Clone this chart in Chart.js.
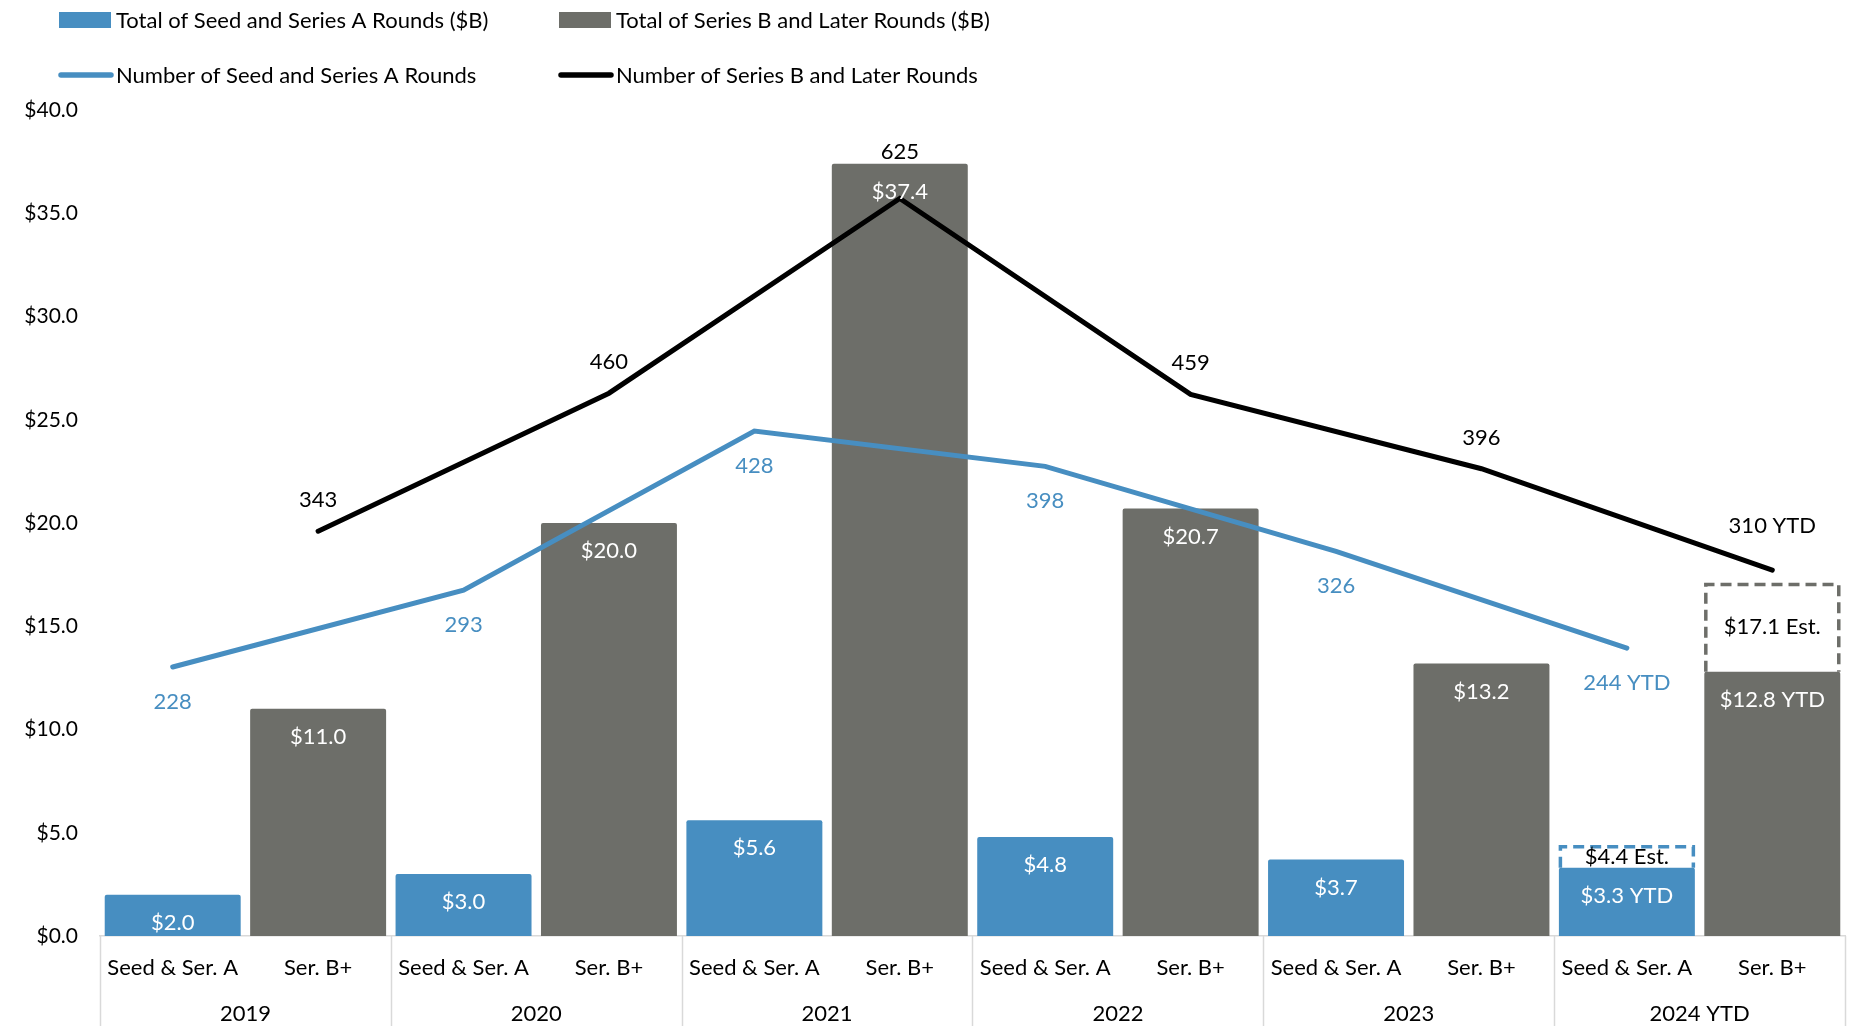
<!DOCTYPE html>
<html>
<head>
<meta charset="utf-8">
<title>Venture Rounds</title>
<script src="https://cdn.jsdelivr.net/npm/chart.js@4.4.1/dist/chart.umd.min.js"></script>
<style>
    html, body { margin: 0; padding: 0; background: #fff; }
    #wrap { width: 1857px; height: 1026px; }
</style>
</head>
<body>
<div id="wrap"><canvas id="rounds-chart" width="1857" height="1026"></canvas></div>
<script>
"use strict";

var years = ["2019", "2020", "2021", "2022", "2023", "2024 YTD"];
var roundTypes = ["Seed & Ser. A", "Ser. B+"];
var seedTotals = [2.0, 3.0, 5.6, 4.8, 3.7, 3.3];
var laterTotals = [11.0, 20.0, 37.4, 20.7, 13.2, 12.8];
var estimates2024 = [4.4, 17.1];
var seedCounts = [228, 293, 428, 398, 326, 244];
var laterCounts = [343, 460, 625, 459, 396, 310];
var dollarTicks = [0, 5, 10, 15, 20, 25, 30, 35, 40];

var BLUE = "#478ec1";
var GRAY = "#6d6e69";
var FONT = "Lato";
var FONT_SIZE = 22;
var last = years.length - 1;

// two slots per year: seed/series A first, then series B+
var slotLabels = [];
var seedBars = [], laterBars = [], estBars = [], seedLine = [], laterLine = [];
years.forEach(function (y, i) {
    slotLabels.push(roundTypes[0], roundTypes[1]);
    seedBars.push(seedTotals[i], null);
    laterBars.push(null, laterTotals[i]);
    seedLine.push(seedCounts[i], null);
    laterLine.push(null, laterCounts[i]);
    if (i === last) {
        estBars.push([seedTotals[i], estimates2024[0]], [laterTotals[i], estimates2024[1]]);
    } else {
        estBars.push(null, null);
    }
});

function suffix(idx) {
    return Math.floor(idx / 2) === last ? " YTD" : "";
}

function fontStr() {
    return FONT_SIZE + "px " + FONT;
}

// value labels, dashed estimate outlines, year separators, legend
var decorations = {
    id: "decorations",
    afterDatasetsDraw: function (chart) {
        var ctx = chart.ctx;
        var area = chart.chartArea;
        ctx.save();
        ctx.font = fontStr();
        ctx.textAlign = "center";
        ctx.textBaseline = "middle";

        var estMeta = chart.getDatasetMeta(2);
        estMeta.data.forEach(function (el, i) {
            var v = estBars[i];
            if (!v) return;
            var half = el.width / 2;
            ctx.save();
            ctx.strokeStyle = i % 2 === 0 ? BLUE : GRAY;
            ctx.lineWidth = 3.5;
            ctx.setLineDash([11, 6]);
            ctx.beginPath();
            ctx.moveTo(el.x - half + 1.5, el.base);
            ctx.lineTo(el.x - half + 1.5, el.y + 1.5);
            ctx.lineTo(el.x + half - 1.5, el.y + 1.5);
            ctx.lineTo(el.x + half - 1.5, el.base);
            ctx.stroke();
            ctx.restore();
            ctx.fillStyle = "#000";
            ctx.fillText("$" + v[1].toFixed(1) + " Est.", el.x, (el.y + el.base) / 2);
        });

        [0, 1].forEach(function (d) {
            var meta = chart.getDatasetMeta(d);
            var vals = d === 0 ? seedBars : laterBars;
            meta.data.forEach(function (el, i) {
                if (vals[i] == null) return;
                ctx.fillStyle = "#fff";
                ctx.fillText("$" + vals[i].toFixed(1) + suffix(i), el.x, el.y + 28);
            });
        });

        var seedMeta = chart.getDatasetMeta(3);
        seedMeta.data.forEach(function (el, i) {
            if (seedLine[i] == null) return;
            ctx.fillStyle = BLUE;
            ctx.fillText(seedLine[i] + suffix(i), el.x, el.y + 35);
        });

        // count labels sit above the point, or above the bar when the bar is taller
        var laterMeta = chart.getDatasetMeta(4);
        var yScale = chart.scales.y;
        laterMeta.data.forEach(function (el, i) {
            if (laterLine[i] == null) return;
            var ly;
            if (estBars[i]) {
                ly = yScale.getPixelForValue(estBars[i][1]) - 57;
            } else {
                ly = Math.min(el.y - 31, yScale.getPixelForValue(laterBars[i]) - 12);
            }
            ctx.fillStyle = "#000";
            ctx.fillText(laterLine[i] + suffix(i), el.x, ly);
        });

        // year group separators below the axis
        var xs = chart.scales.x;
        var step = xs.getPixelForValue(1) - xs.getPixelForValue(0);
        ctx.strokeStyle = "#d9d9d9";
        ctx.lineWidth = 1.5;
        for (var k = 0; k <= slotLabels.length; k += 2) {
            var px = Math.round(xs.getPixelForValue(k) - step / 2) + 0.5;
            ctx.beginPath();
            ctx.moveTo(px, area.bottom);
            ctx.lineTo(px, chart.height);
            ctx.stroke();
        }
        ctx.restore();
    },
    afterDraw: function (chart) {
        var ctx = chart.ctx;
        ctx.save();
        ctx.font = fontStr();
        ctx.textAlign = "left";
        ctx.textBaseline = "middle";
        ctx.fillStyle = "#000";
        var cols = [59, 559];
        var rows = [20, 75];
        var items = chart.data.datasets.filter(function (ds) { return ds.legendRow != null; });
        items.forEach(function (ds) {
            var x = cols[ds.legendCol], y = rows[ds.legendRow];
            if (ds.type === "line") {
                ctx.strokeStyle = ds.borderColor;
                ctx.lineWidth = 5.5;
                ctx.lineCap = "round";
                ctx.beginPath();
                ctx.moveTo(x + 2, y);
                ctx.lineTo(x + 52, y);
                ctx.stroke();
            } else {
                ctx.fillStyle = ds.backgroundColor;
                ctx.fillRect(x, y - 8, 52, 16);
            }
            ctx.fillStyle = "#000";
            ctx.fillText(ds.label, x + 57, y + 1);
        });
        ctx.restore();
    }
};

Chart.defaults.font.family = FONT;
Chart.defaults.font.size = FONT_SIZE;
Chart.defaults.color = "#000";

var ctx = document.getElementById("rounds-chart").getContext("2d");
var roundsChart = new Chart(ctx, {
    type: "bar",
    data: {
        labels: slotLabels,
        datasets: [{
                label: "Total of Seed and Series A Rounds ($B)",
                data: seedBars,
                backgroundColor: BLUE,
                order: 2,
                legendRow: 0, legendCol: 0
            },
            {
                label: "Total of Series B and Later Rounds ($B)",
                data: laterBars,
                backgroundColor: GRAY,
                order: 2,
                legendRow: 0, legendCol: 1
            },
            {
                label: "2024 Estimate",
                data: estBars,
                backgroundColor: "#fff",
                borderRadius: 0,
                order: 3
            },
            {
                type: "line",
                label: "Number of Seed and Series A Rounds",
                data: seedLine,
                yAxisID: "y2",
                borderColor: BLUE,
                borderWidth: 5,
                borderCapStyle: "round",
                pointRadius: 0,
                spanGaps: true,
                order: 1,
                legendRow: 1, legendCol: 0
            },
            {
                type: "line",
                label: "Number of Series B and Later Rounds",
                data: laterLine,
                yAxisID: "y2",
                borderColor: "#000",
                borderWidth: 5,
                borderCapStyle: "round",
                pointRadius: 0,
                spanGaps: true,
                order: 1,
                legendRow: 1, legendCol: 1
            }
        ]
    },
    options: {
        responsive: false,
        animation: false,
        layout: { padding: { top: 110, right: 12, left: 0, bottom: 0 } },
        datasets: {
            bar: {
                grouped: false,
                categoryPercentage: 1,
                barPercentage: 0.935,
                borderRadius: { topLeft: 2, topRight: 2 },
                borderSkipped: "start"
            }
        },
        plugins: {
            legend: { display: false },
            tooltip: { enabled: false }
        },
        scales: {
            x: {
                type: "category",
                grid: { display: false, drawTicks: false },
                border: { display: true, color: "#d9d9d9", width: 1.5 },
                ticks: { padding: 19, autoSkip: false, maxRotation: 0 },
                afterFit: function (s) { s.height = 50; }
            },
            x2: {
                type: "category",
                labels: years,
                position: "bottom",
                grid: { display: false, drawTicks: false },
                border: { display: false },
                ticks: { padding: 15, autoSkip: false, maxRotation: 0 },
                afterFit: function (s) { s.height = 40; }
            },
            y: {
                min: 0,
                max: 40,
                afterBuildTicks: function (s) {
                    s.ticks = dollarTicks.map(function (v) { return { value: v }; });
                },
                ticks: {
                    padding: 22,
                    font: { size: 21 },
                    callback: function (v) { return "$" + Number(v).toFixed(1); }
                },
                grid: { display: false, drawTicks: false },
                border: { display: false },
                afterFit: function (s) { s.width = 100; }
            },
            y2: {
                display: false,
                min: 0,
                max: 700
            }
        }
    },
    plugins: [decorations]
});
</script>
</body>
</html>
